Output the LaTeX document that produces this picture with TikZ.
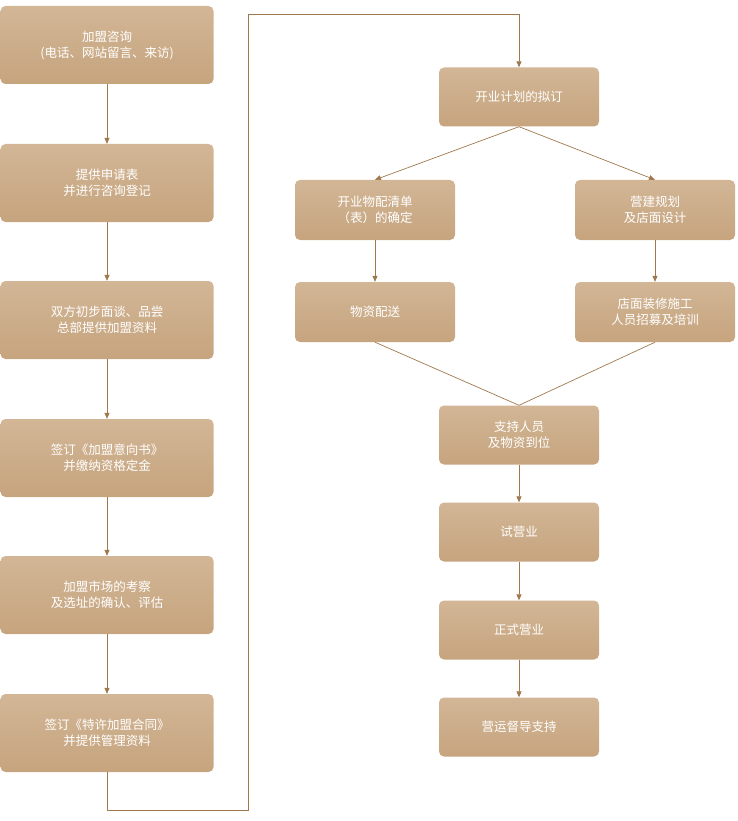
\documentclass[tikz,border=0pt]{standalone}
\usepackage{fontspec}
\setmainfont{Noto Sans CJK SC}
\usetikzlibrary{arrows.meta}
\definecolor{boxc}{HTML}{C6A47E}
\definecolor{boxt}{HTML}{D2B696}
\definecolor{linec}{HTML}{A0784E}
\tikzset{
 bx/.style={rounded corners=5pt,top color=boxt,bottom color=boxc,draw=none,text=white,align=center,font=\fontsize{12.5}{16}\selectfont,inner sep=0pt},
 lbox/.style={bx,minimum width=213pt,minimum height=78pt},
 rbox/.style={bx,minimum width=160pt,minimum height=59pt},
 ln/.style={draw=linec,line width=0.7pt},
 ar/.style={ln,-{Triangle[length=6pt,width=5pt]}}
}
\begin{document}
\begin{tikzpicture}[x=1pt,y=-1pt]
\useasboundingbox (0,0) rectangle (737,821);
\node[lbox] (l1) at (107,45) {加盟咨询\\(电话、网站留言、来访)};
\node[lbox] (l2) at (107,183) {提供申请表\\并进行咨询登记};
\node[lbox] (l3) at (107,320) {双方初步面谈、品尝\\总部提供加盟资料};
\node[lbox] (l4) at (107,458) {签订《加盟意向书》\\并缴纳资格定金};
\node[lbox] (l5) at (107,595) {加盟市场的考察\\及选址的确认、评估};
\node[lbox] (l6) at (107,733) {签订《特许加盟合同》\\并提供管理资料};
\node[rbox] (p) at (519,97) {开业计划的拟订};
\node[rbox,minimum height=60pt] (a1) at (375,210) {开业物配清单\\（表）的确定};
\node[rbox,minimum height=60pt] (b1) at (655,210) {营建规划\\及店面设计};
\node[rbox,minimum height=60pt] (a2) at (375,312) {物资配送};
\node[rbox,minimum height=60pt] (b2) at (655,312) {店面装修施工\\人员招募及培训};
\node[rbox] (s) at (519,435) {支持人员\\及物资到位};
\node[rbox] (t) at (519,532) {试营业};
\node[rbox] (z) at (519,630) {正式营业};
\node[rbox] (y) at (519,727) {营运督导支持};
\foreach \u/\v in {l1/l2,l2/l3,l3/l4,l4/l5,l5/l6,a1/a2,b1/b2,s/t,t/z,z/y}
  \draw[ar] (\u.south) -- (\v.north);
\coordinate (c1) at (107,810); \coordinate (c2) at (248,810);
\coordinate (c3) at (248,14); \coordinate (c4) at (519,14);
\draw[ar] (l6.south) -- (c1) -- (c2) -- (c3) -- (c4) -- (p.north);
\draw[ar] (p.south) -- (a1.north);
\draw[ar] (p.south) -- (b1.north);
\draw[ln] (a2.south) -- (s.north) -- (b2.south);
\end{tikzpicture}
\end{document}
